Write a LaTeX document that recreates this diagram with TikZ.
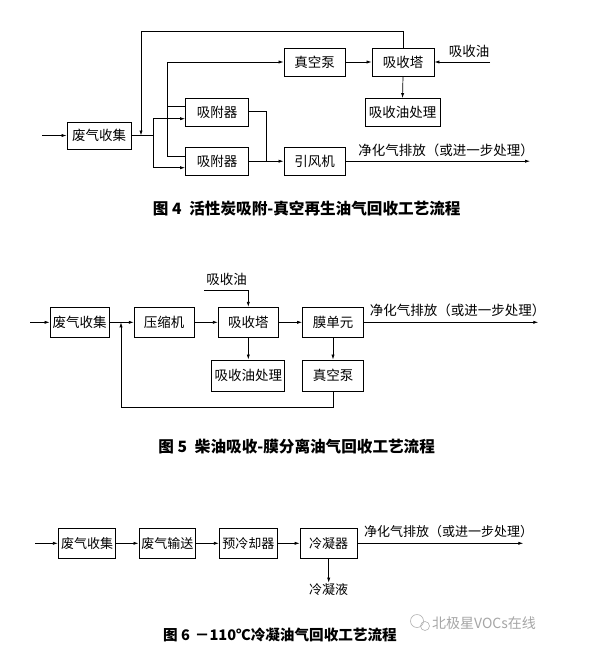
\documentclass[tikz,border=0pt]{standalone}
\usepackage{fontspec}
\setmainfont{Noto Sans CJK SC}
\newfontfamily\cjk{Noto Sans CJK SC}
\usetikzlibrary{arrows.meta,calc}
\begin{document}
\begin{tikzpicture}[x=1pt,y=-1pt,
  line width=0.7pt,
  box/.style={draw, line width=0.8pt, minimum height=28pt, inner sep=0pt, font=\fontsize{13.5}{14}\selectfont},
  boxs/.style={box, minimum height=30pt, font=\fontsize{13}{14}\selectfont},
  lbl/.style={inner sep=0pt, font=\fontsize{13.5}{14}\selectfont},
  lbls/.style={inner sep=0pt, font=\fontsize{13}{14}\selectfont},
  captext/.style={inner sep=0pt, font=\fontsize{15.6}{16}\selectfont\bfseries},
  captexts/.style={inner sep=0pt, font=\fontsize{14.6}{16}\selectfont\bfseries},
  arr/.style={-{Latex[length=5pt,width=3.2pt]}},
]
\useasboundingbox (0,0) rectangle (608,648);
\fill[white] (0,0) rectangle (608,648);

% ---------------- Figure 4 ----------------
\node[box, minimum width=64pt, minimum height=27pt] (f4a) at (99,135.5) {废气收集};
\node[box, minimum width=63pt] (f4ad1) at (217,112.3) {吸附器};
\node[box, minimum width=63pt] (f4ad2) at (217,161.2) {吸附器};
\node[box, minimum width=61pt] (f4vp) at (314.5,62) {真空泵};
\node[box, minimum width=62pt] (f4abs) at (403,62) {吸收塔};
\node[box, minimum width=75pt] (f4oil) at (402.5,112.5) {吸收油处理};
\node[box, minimum width=61pt] (f4fan) at (314.5,161.2) {引风机};
\node[lbl] (f4oillbl) at (469,51) {吸收油};
\node[lbl] (f4out) at (446,150) {净化气排放（或进一步处理）};
\node[captext] (f4cap) at (306.7,208.3) {图 4\enspace 活性炭吸附-真空再生油气回收工艺流程};

\coordinate (f4in) at (42,135.5);
\coordinate (f4j) at (153.3,135.5);
\coordinate (f4fb) at (141,135.5);
\coordinate (f4top) at (141,31.7);
\coordinate (f4rv) at (167.7,62);
\coordinate (f4rj) at (167.7,106.7);
\coordinate (f4oj) at (266,161.2);
\coordinate (f4oilin) at (490,62);
\coordinate (f4end) at (530,161.2);

\draw[arr] (f4in) -- (f4a.west);
\draw (f4a.east) -- (f4j);
\draw[arr] (f4j) |- ([yshift=-6.4pt]f4ad1.west);
\draw[arr] (f4j) |- ([yshift=-6.5pt]f4ad2.west);
\draw[arr] (f4abs.north) |- (f4top) -- (f4fb);
\draw[arr] ([yshift=5.6pt]f4ad1.west) -| (f4rv) -- (f4vp.west);
\draw ([yshift=5.2pt]f4ad2.west) -| (f4rj);
\draw[arr] (f4vp.east) -- (f4abs.west);
\draw[arr] (f4oilin) -- (f4abs.east);
\draw[arr] (f4abs.south) -- (f4oil.north);
\draw ([yshift=1.3pt]f4ad1.east) -| (f4oj);
\draw[arr] (f4ad2.east) -- (f4fan.west);
\draw[arr] (f4fan.east) -- (f4end);

% ---------------- Figure 5 ----------------
\node[box, minimum width=59pt, minimum height=30pt] (f5a) at (79.5,322.3) {废气收集};
\node[box, minimum width=60pt, minimum height=30pt] (f5c) at (164.2,322.3) {压缩机};
\node[box, minimum width=60pt, minimum height=30pt] (f5abs) at (248.3,322.3) {吸收塔};
\node[box, minimum width=61pt, minimum height=30pt] (f5m) at (333,322.3) {膜单元};
\node[box, minimum width=73pt, minimum height=31.7pt] (f5oil) at (248.3,375.8) {吸收油处理};
\node[box, minimum width=61pt, minimum height=31.7pt] (f5vp) at (333,375.8) {真空泵};
\node[lbl] (f5oillbl) at (226.7,279.5) {吸收油};
\node[lbl] (f5out) at (457.5,310) {净化气排放（或进一步处理）};
\node[captext] (f5cap) at (296.7,446.7) {图 5\enspace 柴油吸收-膜分离油气回收工艺流程};

\coordinate (f5in) at (30,322.3);
\coordinate (f5oilst) at (204,290.7);
\coordinate (f5fb) at (121,322.3);
\coordinate (f5bot) at (121,407.7);
\coordinate (f5end) at (538.3,322.3);

\draw[arr] (f5in) -- (f5a.west);
\draw[arr] (f5a.east) -- (f5c.west);
\draw[arr] (f5c.east) -- (f5abs.west);
\draw[arr] (f5abs.east) -- (f5m.west);
\draw[arr] (f5oilst) -| (f5abs.north);
\draw[arr] (f5abs.south) -- (f5oil.north);
\draw[arr] (f5m.south) -- (f5vp.north);
\draw[arr] (f5vp.south) |- (f5bot) -- (f5fb);
\draw[arr] (f5m.east) -- (f5end);

% ---------------- Figure 6 ----------------
\node[boxs, minimum width=57.4pt] (f6a) at (87,543.3) {废气收集};
\node[boxs, minimum width=56.7pt] (f6b) at (167.3,543.3) {废气输送};
\node[boxs, minimum width=58pt] (f6c) at (248.3,543.3) {预冷却器};
\node[boxs, minimum width=57.3pt] (f6d) at (328.7,543.3) {冷凝器};
\node[lbls, inner sep=1pt] (f6liq) at (328.7,590) {冷凝液};
\node[lbls] (f6out) at (448.5,531.7) {净化气排放（或进一步处理）};
\node[captexts] (f6cap) at (280,635) {图 6\,\,－110℃冷凝油气回收工艺流程};

\coordinate (f6in) at (35,543.3);
\coordinate (f6end) at (523.3,543.3);

\draw[arr] (f6in) -- (f6a.west);
\draw[arr] (f6a.east) -- (f6b.west);
\draw[arr] (f6b.east) -- (f6c.west);
\draw[arr] (f6c.east) -- (f6d.west);
\draw[arr] (f6d.south) -- (f6liq.north);
\draw[arr] (f6d.east) -- (f6end);

% watermark
\node[inner sep=0pt, text=black!35, font=\fontsize{14}{15}\selectfont] (wm) at (484,623) {北极星VOCs在线};
\draw[black!30, line width=0.6pt] (417,621) circle (6.5pt);
\draw[black!30, line width=0.6pt] (425,626) circle (4.5pt);
\end{tikzpicture}
\end{document}
